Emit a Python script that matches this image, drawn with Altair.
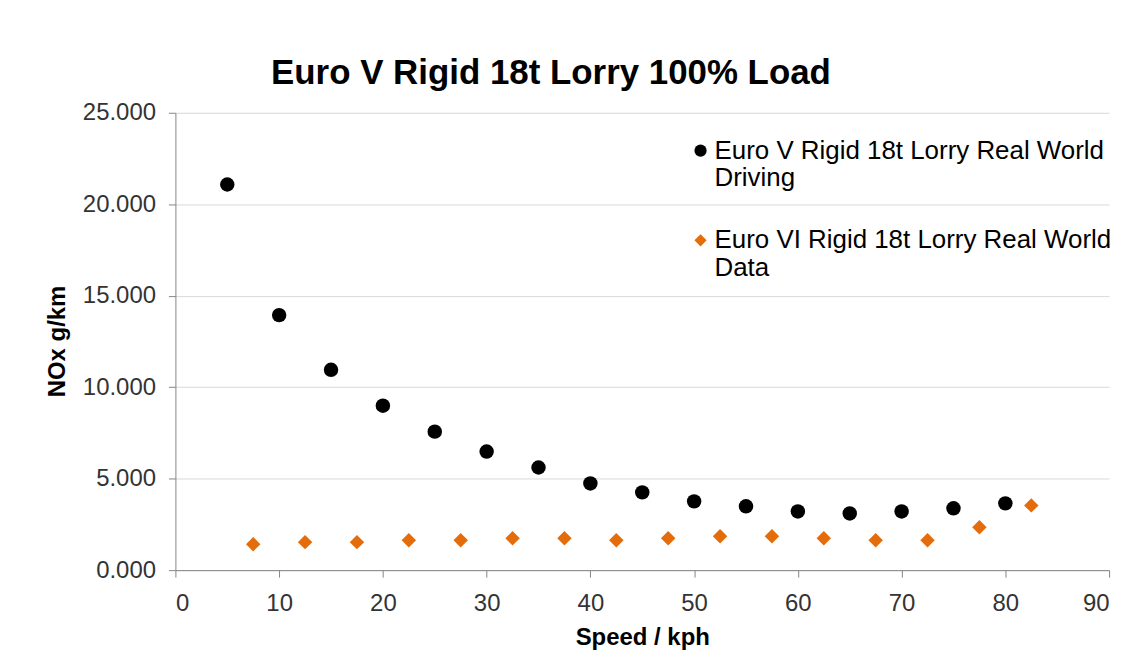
import altair as alt
import pandas as pd

series_names = ["Euro V Rigid 18t Lorry Real World Driving",
                "Euro VI Rigid 18t Lorry Real World Data"]

speed_v = [5, 10, 15, 20, 25, 30, 35, 40, 45, 50, 55, 60, 65, 70, 75, 80]
nox_v = [21.08, 13.94, 10.95, 8.99, 7.57, 6.48, 5.61, 4.74, 4.25, 3.76, 3.49, 3.21, 3.10, 3.21, 3.38, 3.65]

speed_vi = [7.5, 12.5, 17.5, 22.5, 27.5, 32.5, 37.5, 42.5, 47.5, 52.5, 57.5, 62.5, 67.5, 72.5, 77.5, 82.5]
nox_vi = [1.42, 1.53, 1.53, 1.63, 1.63, 1.74, 1.74, 1.63, 1.74, 1.85, 1.85, 1.74, 1.63, 1.63, 2.34, 3.54]

x_ticks = [0, 10, 20, 30, 40, 50, 60, 70, 80, 90]
y_ticks = [0, 5, 10, 15, 20, 25]

df = pd.concat([
    pd.DataFrame({"speed": speed_v, "nox": nox_v, "series": series_names[0]}),
    pd.DataFrame({"speed": speed_vi, "nox": nox_vi, "series": series_names[1]}),
])

FONT = "Liberation Sans"

label_expr = ("datum.label == '%s' ? ['Euro V Rigid 18t Lorry Real World', 'Driving'] : "
              "['Euro VI Rigid 18t Lorry Real World', 'Data']") % series_names[0]

legend_kw = dict(title=None, orient="none", legendX=514, legendY=25,
                 labelExpr=label_expr, symbolSize=150, labelOffset=1,
                 rowPadding=36, padding=0, labelLimit=500, labelBaseline="middle")

chart = alt.Chart(df).mark_point(filled=True, size=210, opacity=1).encode(
    x=alt.X("speed:Q", title="Speed / kph",
            scale=alt.Scale(domain=[0, 90], nice=False),
            axis=alt.Axis(values=x_ticks, grid=False, tickSize=7, labelPadding=14,
                          titlePadding=11, format="d")),
    y=alt.Y("nox:Q", title="NOx  g/km",
            scale=alt.Scale(domain=[0, 25], nice=False),
            axis=alt.Axis(values=y_ticks, format=".3f", tickSize=7, labelPadding=13,
                          titleX=-118, titleY=229, titleBaseline="middle")),
    color=alt.Color("series:N", scale=alt.Scale(domain=series_names, range=["#000000", "#E46C0A"]),
                    legend=alt.Legend(**legend_kw)),
    shape=alt.Shape("series:N", scale=alt.Scale(domain=series_names, range=["circle", "diamond"]),
                    legend=alt.Legend(**legend_kw)),
).properties(
    width=937, height=459,
    autosize=alt.AutoSizeParams(type="none"),
    padding={"left": 168, "top": 104, "right": 27, "bottom": 79},
    title=alt.TitleParams("Euro V Rigid 18t Lorry 100% Load", anchor="start", frame="group",
                          dx=96, dy=44,
                          fontSize=35, font=FONT, fontWeight="bold", color="#000000",
                          offset=26, baseline="alphabetic"),
).configure(background="white").configure_view(stroke=None).configure_axis(
    labelFont=FONT, titleFont=FONT, labelFontSize=24, titleFontSize=24,
    labelColor="#333333", titleColor="#000000", titleFontWeight="bold",
    domainColor="#868686", tickColor="#868686", gridColor="#d9d9d9",
).configure_legend(
    labelFont=FONT, labelFontSize=26, labelColor="#000000"
)

chart.save("out.html", embed_options={"renderer": "svg", "actions": False})
